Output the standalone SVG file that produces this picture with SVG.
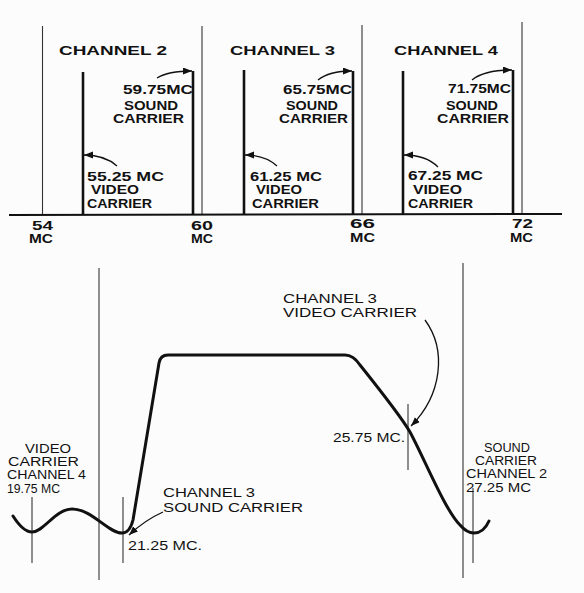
<svg xmlns="http://www.w3.org/2000/svg" width="584" height="593" viewBox="0 0 584 593">
<style>
.bg{fill:#fcfcfc}
.thin{stroke:#333;stroke-width:1.1;fill:none}
.thick{stroke:#111;stroke-width:2.6;fill:none}
.axis{stroke:#111;stroke-width:2;fill:none}
.curve{stroke:#111;stroke-width:3;fill:none;stroke-linecap:round;stroke-linejoin:round}
.arr{stroke:#111;stroke-width:1.3;fill:none;marker-end:url(#ah)}
.tt{font-family:"Liberation Sans",Arial,sans-serif;font-size:12.5px;font-weight:bold;fill:#111}
.hd{font-family:"Liberation Sans",Arial,sans-serif;font-size:13.5px;font-weight:bold;fill:#111}
.bt{font-family:"Liberation Sans",Arial,sans-serif;font-size:12px;fill:#111}
</style>
<defs>
<marker id="ah" markerUnits="userSpaceOnUse" markerWidth="10" markerHeight="8" refX="9" refY="3.5" orient="auto">
<path d="M0,0 L9,3.5 L0,7 z" fill="#111"/>
</marker>
</defs>
<rect class="bg" x="0" y="0" width="584" height="593"/>

<g id="spectrum-top">
<g id="boundaries">
<line class="thin" x1="42.5" y1="26" x2="42.5" y2="215"/>
<line class="thin" x1="202" y1="26" x2="202" y2="215"/>
<line class="thin" x1="362" y1="25" x2="362" y2="215"/>
<line class="thin" x1="522" y1="22" x2="522" y2="215"/>
</g>
<line class="axis" x1="9" y1="215" x2="562" y2="214"/>

<g id="channel-2">
<line class="thick" x1="83" y1="72" x2="83" y2="215"/>
<line class="thick" x1="193" y1="71" x2="193" y2="215"/>
<text class="hd" x="59" y="55" textLength="108" lengthAdjust="spacingAndGlyphs">CHANNEL 2</text>
<text class="tt" x="123" y="94" textLength="70" lengthAdjust="spacingAndGlyphs">59.75MC</text>
<text class="tt" x="124" y="110" textLength="54" lengthAdjust="spacingAndGlyphs">SOUND</text>
<text class="tt" x="113" y="123" textLength="71" lengthAdjust="spacingAndGlyphs">CARRIER</text>
<text class="tt" x="87" y="181" textLength="77" lengthAdjust="spacingAndGlyphs">55.25 MC</text>
<text class="tt" x="91" y="194" textLength="48" lengthAdjust="spacingAndGlyphs">VIDEO</text>
<text class="tt" x="87" y="208" textLength="65" lengthAdjust="spacingAndGlyphs">CARRIER</text>
</g>

<g id="channel-3">
<line class="thick" x1="244" y1="70" x2="244" y2="215"/>
<line class="thick" x1="353" y1="71" x2="353" y2="215"/>
<text class="hd" x="230" y="55" textLength="105" lengthAdjust="spacingAndGlyphs">CHANNEL 3</text>
<text class="tt" x="283" y="94" textLength="69" lengthAdjust="spacingAndGlyphs">65.75MC</text>
<text class="tt" x="286" y="110" textLength="52" lengthAdjust="spacingAndGlyphs">SOUND</text>
<text class="tt" x="279" y="123" textLength="69" lengthAdjust="spacingAndGlyphs">CARRIER</text>
<text class="tt" x="250" y="181" textLength="72" lengthAdjust="spacingAndGlyphs">61.25 MC</text>
<text class="tt" x="256" y="194" textLength="46" lengthAdjust="spacingAndGlyphs">VIDEO</text>
<text class="tt" x="252" y="208" textLength="67" lengthAdjust="spacingAndGlyphs">CARRIER</text>
</g>

<g id="channel-4">
<line class="thick" x1="403" y1="71" x2="403" y2="215"/>
<line class="thick" x1="513" y1="70" x2="513" y2="215"/>
<text class="hd" x="394" y="55" textLength="104" lengthAdjust="spacingAndGlyphs">CHANNEL 4</text>
<text class="tt" x="448" y="93" textLength="63" lengthAdjust="spacingAndGlyphs">71.75MC</text>
<text class="tt" x="446" y="110" textLength="52" lengthAdjust="spacingAndGlyphs">SOUND</text>
<text class="tt" x="437" y="123" textLength="72" lengthAdjust="spacingAndGlyphs">CARRIER</text>
<text class="tt" x="408" y="180" textLength="75" lengthAdjust="spacingAndGlyphs">67.25 MC</text>
<text class="tt" x="413" y="194" textLength="49" lengthAdjust="spacingAndGlyphs">VIDEO</text>
<text class="tt" x="408" y="208" textLength="65" lengthAdjust="spacingAndGlyphs">CARRIER</text>
</g>

<g id="axis-labels">
<text class="tt" x="32" y="230" textLength="21" lengthAdjust="spacingAndGlyphs">54</text>
<text class="tt" x="29" y="243" textLength="24" lengthAdjust="spacingAndGlyphs">MC</text>
<text class="tt" x="191" y="230" textLength="22" lengthAdjust="spacingAndGlyphs">60</text>
<text class="tt" x="191" y="243" textLength="22" lengthAdjust="spacingAndGlyphs">MC</text>
<text class="tt" x="350" y="228" textLength="25" lengthAdjust="spacingAndGlyphs">66</text>
<text class="tt" x="350" y="242" textLength="25" lengthAdjust="spacingAndGlyphs">MC</text>
<text class="tt" x="512" y="228" textLength="21" lengthAdjust="spacingAndGlyphs">72</text>
<text class="tt" x="510" y="242" textLength="23" lengthAdjust="spacingAndGlyphs">MC</text>
</g>
</g>

<g id="connectors">
<path class="arr" d="M157,78 Q168,71 192,71"/>
<path class="arr" d="M117,166 Q105,155 84,155"/>
<path class="arr" d="M318,80 Q329,71 352,71"/>
<path class="arr" d="M277,166 Q265,155 245,155"/>
<path class="arr" d="M472,80 Q484,70 512,70"/>
<path class="arr" d="M438,167 Q426,155 404,155"/>
<path class="arr" d="M425,320 C447,350 442,395 411,426"/>
<path class="arr" d="M163,512 Q145,520 129,535"/>
</g>

<g id="response-bottom">
<line class="thin" x1="99" y1="268" x2="99" y2="580"/>
<line class="thin" x1="463" y1="263" x2="463" y2="578"/>
<line class="thin" x1="32" y1="497" x2="32" y2="563"/>
<line class="thin" x1="123" y1="497" x2="123" y2="563"/>
<line class="thin" x1="408" y1="404" x2="408" y2="470"/>
<line class="thin" x1="473" y1="488" x2="473" y2="563"/>
<path class="curve" d="M13,516 C20,527 26,532 32,532 C44,532 55,509 72,509 C92,509 108,533 122,533 C128,533 131,528 133,520 L159,363 C160,357 163,355 168,355 L345,355 C352,355 356,359 360,365 C380,390 400,415 410,432 C425,460 445,510 460,525 C466,532 470,533 474,533 C480,533 485,530 489,521"/>

<g id="label-video-ch3">
<text class="bt" x="283" y="303" textLength="94" lengthAdjust="spacingAndGlyphs">CHANNEL 3</text>
<text class="bt" x="283" y="317" textLength="134" lengthAdjust="spacingAndGlyphs">VIDEO CARRIER</text>
<text class="bt" x="333" y="442" textLength="72" lengthAdjust="spacingAndGlyphs">25.75 MC.</text>
</g>
<g id="label-sound-ch2">
<text class="bt" x="484" y="452" textLength="46" lengthAdjust="spacingAndGlyphs">SOUND</text>
<text class="bt" x="475" y="465" textLength="62" lengthAdjust="spacingAndGlyphs">CARRIER</text>
<text class="bt" x="466" y="478" textLength="81" lengthAdjust="spacingAndGlyphs">CHANNEL 2</text>
<text class="bt" x="466" y="492" textLength="65" lengthAdjust="spacingAndGlyphs">27.25 MC</text>
</g>
<g id="label-video-ch4">
<text class="bt" x="25" y="453" textLength="46" lengthAdjust="spacingAndGlyphs">VIDEO</text>
<text class="bt" x="8" y="466" textLength="71" lengthAdjust="spacingAndGlyphs">CARRIER</text>
<text class="bt" x="7" y="479" textLength="79" lengthAdjust="spacingAndGlyphs">CHANNEL 4</text>
<text class="bt" x="7" y="493" textLength="53" lengthAdjust="spacingAndGlyphs">19.75 MC</text>
</g>
<g id="label-sound-ch3">
<text class="bt" x="163" y="497" textLength="92" lengthAdjust="spacingAndGlyphs">CHANNEL 3</text>
<text class="bt" x="163" y="512" textLength="140" lengthAdjust="spacingAndGlyphs">SOUND CARRIER</text>
<text class="bt" x="128" y="550" textLength="74" lengthAdjust="spacingAndGlyphs">21.25 MC.</text>
</g>
</g>
</svg>
